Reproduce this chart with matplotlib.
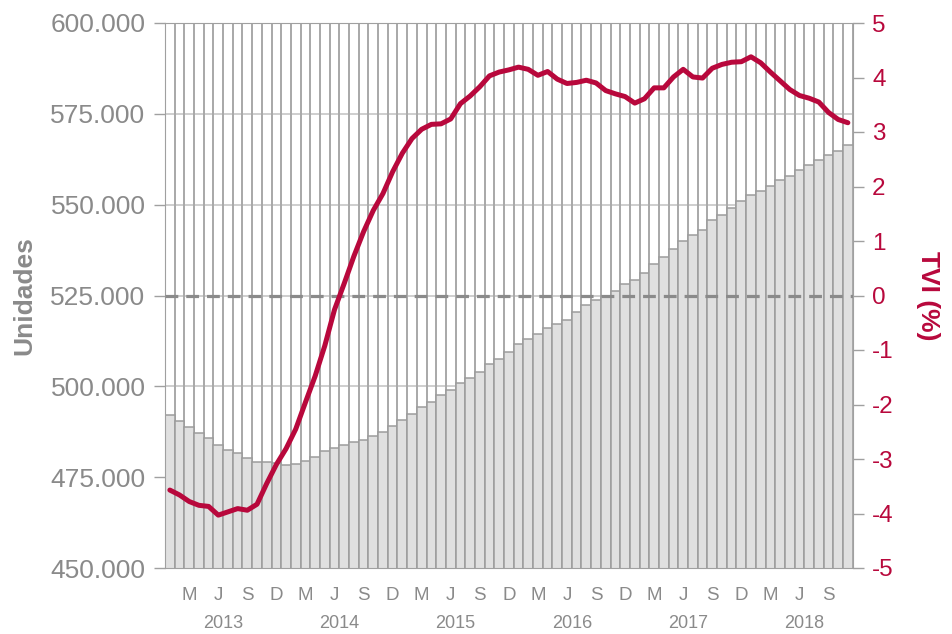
import matplotlib
matplotlib.use('Agg')
import matplotlib.pyplot as plt
import matplotlib.transforms as mtransforms
import numpy as np

plt.rcParams['font.family'] = ['Liberation Sans', 'DejaVu Sans']
plt.rcParams['axes.unicode_minus'] = False

# parque (unidades), mensual ene-2013 .. nov-2018
unidades = [
    492000, 490500, 488700, 487200, 485700, 483900, 482400, 481700, 480200, 479200, 479200, 478800,
    478300, 478600, 479400, 480500, 482300, 483000, 483900, 484600, 485300, 486400, 487500, 489000,
    490700, 492400, 494200, 495700, 497500, 499000, 500800, 502400, 503900, 506100, 507500, 509400,
    511700, 513100, 514300, 516100, 517200, 518300, 520400, 522300, 523800, 524900, 526300, 528200,
    529400, 531200, 533800, 535700, 537900, 540100, 541600, 543100, 545700, 547100, 549000, 550900,
    552600, 553800, 555200, 556700, 557800, 559600, 560800, 562200, 563800, 564900, 566300,
]
# tasa de variacion interanual (%)
tvi = [
    -3.57, -3.66, -3.78, -3.85, -3.87, -4.03, -3.97, -3.91, -3.94, -3.83, -3.45, -3.10,
    -2.81, -2.45, -1.96, -1.48, -0.92, -0.26, 0.22, 0.72, 1.17, 1.56, 1.87, 2.27,
    2.61, 2.88, 3.05, 3.14, 3.15, 3.24, 3.52, 3.66, 3.83, 4.03, 4.10, 4.14,
    4.19, 4.15, 4.04, 4.11, 3.97, 3.89, 3.91, 3.95, 3.90, 3.76, 3.70, 3.65,
    3.53, 3.61, 3.81, 3.81, 4.01, 4.15, 4.01, 3.99, 4.17, 4.24, 4.28, 4.29,
    4.38, 4.27, 4.10, 3.94, 3.78, 3.67, 3.62, 3.55, 3.36, 3.23, 3.17,
]
meses = ['M', 'J', 'S', 'D']
anios = ['2013', '2014', '2015', '2016', '2017', '2018']

GRIS = '#8a8a8a'
ROJO = '#b8083c'

x = np.arange(len(unidades))

fig = plt.figure(figsize=(9.52, 6.34), dpi=100)
ax = fig.add_axes([165 / 952, 1 - 568 / 634, (852.7 - 165) / 952, (568 - 23) / 634])
ax2 = ax.twinx()

# lineas verticales en los bordes de cada barra
for b in np.arange(-0.5, len(x) + 0.5, 1):
    ax.axvline(b, color='#a8a8a8', lw=1.4, zorder=1)
for v in range(450000, 600001, 25000):
    ax.axhline(v, color='#c6c6c6', lw=1.2, zorder=0.5)

ax.bar(x, unidades, width=1.0, color='#e0e0e0', edgecolor='#9c9c9c', lw=1.1, zorder=2)

ax.set_xlim(-0.5, len(x) - 0.5)
ax.set_ylim(450000, 600000)
ax.set_yticks(range(450000, 600001, 25000))
ax.set_yticklabels([f'{v:,}'.replace(',', '.') for v in range(450000, 600001, 25000)])
ax.tick_params(axis='y', colors='#a0a0a0', labelcolor=GRIS, labelsize=19, length=8, width=1, pad=6)
ax.set_ylabel('Unidades', color=GRIS, fontsize=19, fontweight='bold', labelpad=10)

tick_pos = np.arange(2, len(x), 3)
ax.set_xticks(tick_pos)
ax.set_xticklabels([meses[i % 4] for i in range(len(tick_pos))])
ax.tick_params(axis='x', length=0, labelcolor=GRIS, labelsize=13.5, pad=14)

trans = mtransforms.blended_transform_factory(ax.transData, ax.transAxes)
for k, a in enumerate(anios):
    ax.text(5.5 + 12 * k, -0.102, a, transform=trans, ha='center', va='center',
            color=GRIS, fontsize=13)

for sp in ax.spines.values():
    sp.set_color('#a0a0a0')
for sp in ax2.spines.values():
    sp.set_visible(False)

ax2.set_ylim(-5, 5)
ax2.set_yticks(range(-5, 6))
ax2.tick_params(axis='y', colors='#a0a0a0', labelcolor=ROJO, labelsize=17.5, length=8, width=1, pad=6)
ax2.axhline(0, color='#8a8a8a', lw=2.3, ls=(0, (4, 2.5)), zorder=3)
ax2.plot(x, tvi, color=ROJO, lw=3.6, solid_capstyle='round', solid_joinstyle='round', zorder=4)
ax2.set_ylabel('TVI (%)', color=ROJO, fontsize=19, fontweight='bold', rotation=270, labelpad=33)

fig.savefig('out.png', dpi=100)
